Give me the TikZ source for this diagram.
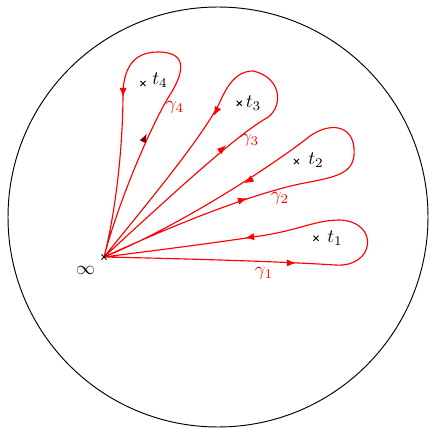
\documentclass[tikz,border=0pt]{standalone}
\usetikzlibrary{arrows.meta}
\definecolor{darkarr}{RGB}{125,0,0}
\begin{document}
\begin{tikzpicture}[x=0.5263pt,y=-0.5263pt,
  loopline/.style={red, line width=0.6pt},
  arr/.style={red, line width=0.6pt, -{Latex[length=4.8pt,width=3.8pt]}},
  crossmark/.style={line width=0.5pt},
  glabel/.style={red, inner sep=0pt},
  tlabel/.style={inner sep=0pt}]
\useasboundingbox (0,0) rectangle (428,429);
\draw[line width=0.5pt] (218,217) circle[radius=110.52pt];

\coordinate (inf) at (104,257);
\coordinate (p1) at (316,238.3);
\coordinate (p2) at (296.5,161.5);
\coordinate (p3) at (239.3,103.3);
\coordinate (p4) at (143,83.5);

% gamma 1
\draw[loopline] (inf) .. controls (200,259) and (290,262) .. (335,265)
  .. controls (375,268) and (380,222) .. (340,220)
  .. controls (315,220) and (300,230) .. (260,236)
  .. controls (200,245) and (150,251) .. (inf);
% gamma 2
\draw[loopline] (inf) .. controls (180,222) and (262,190) .. (310,182)
  .. controls (340,176) and (356,172) .. (354,148)
  .. controls (352,125) and (330,122) .. (310,136)
  .. controls (275,164) and (180,226) .. (inf);
% gamma 3
\draw[loopline] (inf) .. controls (180,187) and (235,137) .. (265,119)
  .. controls (283,110) and (284,78) .. (253,71)
  .. controls (235,71) and (226,88) .. (219,104)
  .. controls (200,140) and (150,200) .. (inf);
% gamma 4
\draw[loopline] (inf) .. controls (118,203) and (150,128) .. (168,98)
  .. controls (185,72) and (188,52) .. (158,52)
  .. controls (132,52) and (124,70) .. (123,92)
  .. controls (123,150) and (115,215) .. (inf);

% arrows
\draw[arr] (287,262.9) -- (296,263.1);
\draw[arr] (254,236.7) -- (245,238);
\draw[arr] (238,201.2) -- (247,198.2);
\draw[arr] (252.5,178.4) -- (244.5,183.4);
\draw[arr] (219,151.7) -- (226,145.2);
\draw[arr] (218,107.5) -- (213.7,115.7);
\draw[arr, darkarr] (143,141.5) -- (146.8,133.5);
\draw[arr] (123.1,88.5) -- (123,97);

% crosses
\foreach \p in {p1,p2,p3,p4,inf}
  \draw[crossmark] (\p) ++(-2.6,-2.6) -- ++(5.2,5.2) ++(-5.2,0) -- ++(5.2,-5.2);

% labels
\node[tlabel] (lt1) at (335,238.5) {$t_1$};
\node[tlabel] (lt2) at (316,160) {$t_2$};
\node[tlabel] (lt3) at (253.5,103) {$t_3$};
\node[tlabel] (lt4) at (160,80) {$t_4$};
\node[glabel] (g1) at (264,273) {$\gamma_1$};
\node[glabel] (g2) at (280,198.5) {$\gamma_2$};
\node[glabel] (g3) at (250,140) {$\gamma_3$};
\node[glabel] (g4) at (175,107) {$\gamma_4$};
\node[inner sep=0pt] (linf) at (85.5,270) {$\infty$};
\end{tikzpicture}
\end{document}
